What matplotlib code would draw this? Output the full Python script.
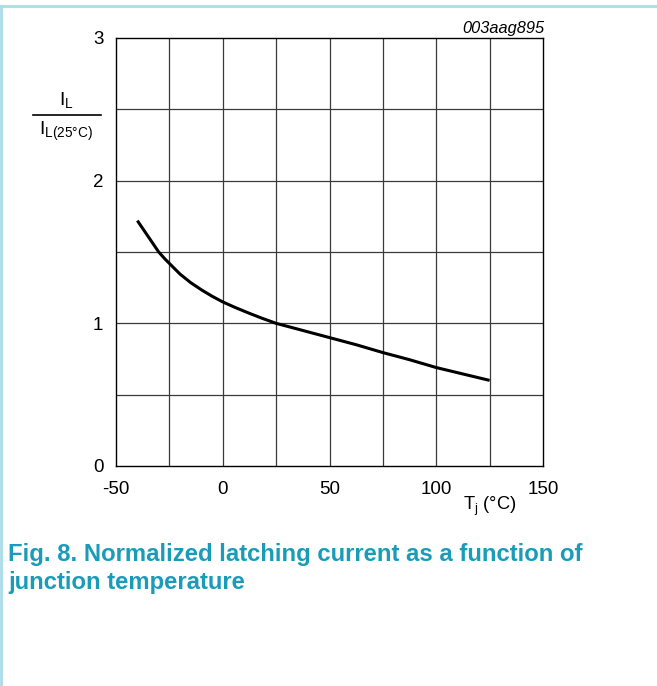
import matplotlib
matplotlib.use("Agg")
import matplotlib.pyplot as plt
from matplotlib.lines import Line2D

plt.rcParams["font.family"] = ["Liberation Sans", "DejaVu Sans"]

# curve
tj = [-40, -35, -30, -27, -25, -20, -15, -10, -5, 0, 6, 12.5, 18.5, 25,
      37.5, 50, 62.5, 75, 87.5, 100, 112.5, 125]
il_ratio = [1.72, 1.61, 1.50, 1.45, 1.42, 1.345, 1.285, 1.235, 1.19, 1.15, 1.11, 1.07, 1.035, 1.0,
            0.95, 0.90, 0.85, 0.795, 0.745, 0.69, 0.645, 0.60]

x_ticks = [-50, 0, 50, 100, 150]
y_ticks = [0, 1, 2, 3]
x_grid = [-25, 0, 25, 50, 75, 100, 125]
y_grid = [0.5, 1, 1.5, 2, 2.5]

W, H = 657, 686
fig = plt.figure(figsize=(W / 100, H / 100), dpi=100)

# light blue frame (top and left only)
border = "#a9dde8"
fig.add_artist(Line2D([0, 1], [1 - 6 / H, 1 - 6 / H], color=border, lw=2, transform=fig.transFigure))
fig.add_artist(Line2D([1 / W, 1 / W], [0, 1 - 6 / H], color=border, lw=2, transform=fig.transFigure))

ax = fig.add_axes([116 / W, 1 - 466 / H, (543 - 116) / W, (466 - 38) / H])
ax.set_xlim(-50, 150)
ax.set_ylim(0, 3)
for g in x_grid:
    ax.axvline(g, color="#3a3a3a", lw=0.9, zorder=1)
for g in y_grid:
    ax.axhline(g, color="#3a3a3a", lw=0.9, zorder=1)
ax.plot(tj, il_ratio, color="black", lw=2.2, zorder=3, solid_capstyle="butt")

ax.set_xticks(x_ticks)
ax.set_yticks(y_ticks)
ax.set_xticklabels([str(v) for v in x_ticks], fontsize=13.5)
ax.set_yticklabels([str(v) for v in y_ticks], fontsize=13.5)
ax.tick_params(axis="x", length=0, pad=11)
ax.tick_params(axis="y", length=0, pad=9)
for s in ax.spines.values():
    s.set_linewidth(1.0)

# y label as a fraction
fig.text(66 / W, 1 - 101 / H, "I$_\\mathregular{L}$", ha="center", va="center", fontsize=14)
fig.add_artist(Line2D([33 / W, 101 / W], [1 - 115 / H, 1 - 115 / H], color="black", lw=1.2,
                      transform=fig.transFigure))
fig.text(66 / W, 1 - 131 / H, "I$_\\mathregular{L(25°C)}$", ha="center", va="center", fontsize=14)

fig.text(490 / W, 1 - 506 / H, "T$_\\mathregular{j}$ (°C)", ha="center", va="center", fontsize=13.2)
fig.text(544 / W, 1 - 29 / H, "003aag895", ha="right", va="center", fontsize=11.8, style="italic")

caption_color = "#1a9cb8"
fig.text(8 / W, 1 - 555 / H, "Fig. 8. Normalized latching current as a function of",
         ha="left", va="center", fontsize=17.2, fontweight="bold", color=caption_color)
fig.text(8 / W, 1 - 583 / H, "junction temperature",
         ha="left", va="center", fontsize=17.2, fontweight="bold", color=caption_color)

fig.savefig("out.png", dpi=100)
